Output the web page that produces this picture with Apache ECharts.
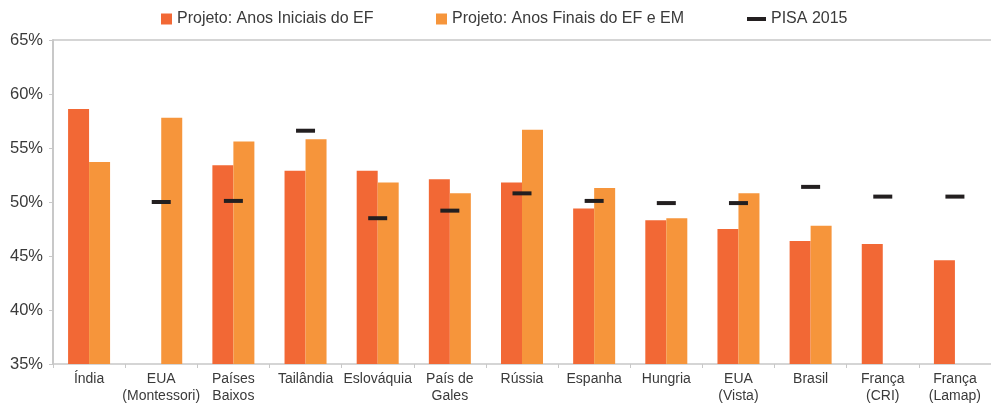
<!DOCTYPE html>
<html lang="pt">
<head>
  <meta charset="UTF-8">
  <title>Projeto vs PISA 2015</title>
  <style>
    html, body { margin: 0; padding: 0; background: #fff; }
    #main { width: 991px; height: 405px; }
  </style>
</head>
<body>
  <div id="main"></div>

  <script src="https://cdn.jsdelivr.net/npm/echarts@6/dist/echarts.min.js"></script>
  <script>
    var categories = ['Índia', 'EUA\n(Montessori)', 'Países\nBaixos', 'Tailândia', 'Eslováquia',
      'País de\nGales', 'Rússia', 'Espanha', 'Hungria', 'EUA\n(Vista)', 'Brasil',
      'França\n(CRI)', 'França\n(Lamap)'];
    var iniciais = [58.6, null, 53.4, 52.9, 52.9, 52.1, 51.8, 49.4, 48.3, 47.5, 46.4, 46.1, 44.6];
    var finais = [53.7, 57.8, 55.6, 55.8, 51.8, 50.8, 56.7, 51.3, 48.5, 50.8, 47.8, null, null];
    var pisa = [null, 50.0, 50.1, 56.6, 48.5, 49.2, 50.8, 50.1, 49.9, 49.9, 51.4, 50.5, 50.5];
    var yTicks = [35, 40, 45, 50, 55, 60, 65];

    var textColor = '#3a3a3a';
    var axisGray = '#c8c8c8';
    var font = 'Liberation Sans';

    var chart = echarts.init(document.getElementById('main'));

    var legendText = { color: textColor, fontSize: 16, fontFamily: font };

    var option = {
      animation: false,
      legend: [
        { left: 161, top: 11, padding: 0, itemWidth: 11, itemHeight: 11, icon: 'rect',
          data: ['Projeto: Anos Iniciais do EF'], textStyle: legendText },
        { left: 436, top: 11, padding: 0, itemWidth: 11, itemHeight: 11, icon: 'rect',
          data: ['Projeto: Anos Finais do EF e EM'], textStyle: legendText },
        { left: 747, top: 11, padding: 0, itemWidth: 19, itemHeight: 4, icon: 'rect',
          data: ['PISA 2015'], textStyle: legendText }
      ],
      grid: { left: 53, right: -5, top: 40, bottom: 38 },
      xAxis: [
        {
          type: 'category',
          data: categories,
          axisLine: { lineStyle: { color: axisGray, width: 1.5 } },
          axisTick: { show: true, length: 4, lineStyle: { color: axisGray } },
          axisLabel: { color: textColor, fontSize: 14, fontFamily: font, margin: 7, lineHeight: 17, interval: 0 }
        },
        {
          type: 'category',
          position: 'top',
          data: categories,
          axisLine: { show: true, lineStyle: { color: axisGray, width: 1.5 } },
          axisTick: { show: false },
          axisLabel: { show: false }
        }
      ],
      yAxis: {
        type: 'value',
        min: yTicks[0],
        max: yTicks[yTicks.length - 1],
        interval: 5,
        axisLine: { show: true, lineStyle: { color: axisGray, width: 2 } },
        axisTick: { show: true, length: 4, lineStyle: { color: axisGray } },
        splitLine: { show: false },
        axisLabel: {
          color: textColor, fontSize: 16.5, fontFamily: font, margin: 10,
          formatter: function (v) { return v + '%'; }
        }
      },
      series: [
        {
          name: 'Projeto: Anos Iniciais do EF',
          type: 'bar',
          data: iniciais,
          barWidth: 21,
          barGap: '0%',
          itemStyle: { color: '#f26835' }
        },
        {
          name: 'Projeto: Anos Finais do EF e EM',
          type: 'bar',
          data: finais,
          barWidth: 21,
          barGap: '0%',
          itemStyle: { color: '#f6953b' }
        },
        {
          name: 'PISA 2015',
          type: 'scatter',
          data: pisa,
          symbol: 'rect',
          symbolSize: [19, 4],
          itemStyle: { color: '#231f20', opacity: 1 },
          z: 5
        }
      ]
    };

    chart.setOption(option);
  </script>
</body>
</html>
